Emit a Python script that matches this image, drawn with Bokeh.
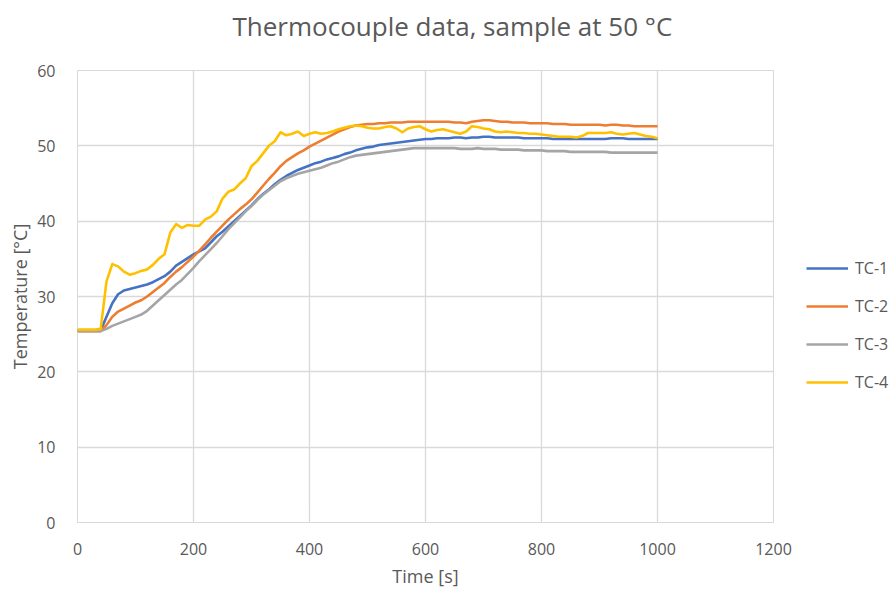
from bokeh.plotting import figure
from bokeh.models import Legend, LegendItem, FixedTicker, Range1d, Title
from bokeh.embed import file_html
from bokeh.resources import INLINE

time_s = list(range(0, 1001, 10))

tc1 = [25.5, 25.5, 25.5, 25.5, 25.5, 27.3, 29.1, 30.3, 30.8, 31.0,
       31.2, 31.4, 31.6, 31.9, 32.3, 32.7, 33.3, 34.1, 34.6, 35.1,
       35.6, 36.0, 36.4, 37.2, 38.0, 38.6, 39.3, 40.0, 40.7, 41.4,
       42.1, 42.9, 43.6, 44.2, 44.9, 45.5, 46.0, 46.4, 46.8, 47.1,
       47.4, 47.7, 47.9, 48.2, 48.4, 48.6, 48.9, 49.1, 49.4, 49.6,
       49.8, 49.9, 50.1, 50.2, 50.3, 50.4, 50.5, 50.6, 50.7, 50.8,
       50.9, 50.9, 51.0, 51.0, 51.0, 51.1, 51.1, 51.0, 51.1, 51.1,
       51.2, 51.2, 51.1, 51.1, 51.1, 51.1, 51.1, 51.0, 51.0, 51.0,
       51.0, 51.0, 50.9, 50.9, 50.9, 50.9, 50.9, 50.9, 50.9, 50.9,
       50.9, 50.9, 51.0, 51.0, 51.0, 50.9, 50.9, 50.9, 50.9, 50.9,
       50.9]

tc2 = [25.4, 25.4, 25.4, 25.4, 25.4, 26.2, 27.3, 28.0, 28.4, 28.8,
       29.2, 29.5, 30.0, 30.6, 31.2, 31.8, 32.6, 33.3, 33.9, 34.6,
       35.3, 36.1, 36.9, 37.8, 38.6, 39.4, 40.2, 40.9, 41.6, 42.2,
       42.9, 43.8, 44.7, 45.6, 46.4, 47.3, 48.0, 48.5, 49.0, 49.4,
       49.9, 50.3, 50.7, 51.1, 51.5, 51.9, 52.2, 52.5, 52.7, 52.8,
       52.9, 52.9, 53.0, 53.0, 53.1, 53.1, 53.1, 53.2, 53.2, 53.2,
       53.2, 53.2, 53.2, 53.2, 53.2, 53.1, 53.1, 53.0, 53.2, 53.3,
       53.4, 53.4, 53.3, 53.2, 53.2, 53.1, 53.1, 53.1, 53.0, 53.0,
       53.0, 53.0, 52.9, 52.9, 52.9, 52.8, 52.8, 52.8, 52.8, 52.8,
       52.8, 52.7, 52.8, 52.8, 52.7, 52.7, 52.6, 52.6, 52.6, 52.6,
       52.6]

tc3 = [25.4, 25.4, 25.4, 25.4, 25.4, 25.7, 26.1, 26.4, 26.7, 27.0,
       27.3, 27.6, 28.1, 28.8, 29.5, 30.2, 30.9, 31.6, 32.2, 33.0,
       33.8, 34.7, 35.5, 36.3, 37.1, 38.0, 38.9, 39.7, 40.5, 41.3,
       42.0, 42.8, 43.5, 44.1, 44.7, 45.3, 45.7, 46.0, 46.3, 46.5,
       46.7, 46.9, 47.1, 47.4, 47.7, 47.9, 48.2, 48.5, 48.7, 48.8,
       48.9, 49.0, 49.1, 49.2, 49.3, 49.4, 49.5, 49.6, 49.7, 49.7,
       49.7, 49.7, 49.7, 49.7, 49.7, 49.7, 49.6, 49.6, 49.6, 49.7,
       49.6, 49.6, 49.6, 49.5, 49.5, 49.5, 49.5, 49.4, 49.4, 49.4,
       49.4, 49.3, 49.3, 49.3, 49.3, 49.2, 49.2, 49.2, 49.2, 49.2,
       49.2, 49.2, 49.1, 49.1, 49.1, 49.1, 49.1, 49.1, 49.1, 49.1,
       49.1]

tc4 = [25.6, 25.6, 25.6, 25.6, 25.7, 32.0, 34.3, 34.0, 33.3, 32.9,
       33.1, 33.4, 33.6, 34.2, 35.0, 35.6, 38.5, 39.6, 39.1, 39.5,
       39.4, 39.4, 40.2, 40.6, 41.3, 43.0, 43.9, 44.2, 45.0, 45.7,
       47.3, 48.0, 49.0, 50.0, 50.6, 51.8, 51.4, 51.6, 51.9, 51.3,
       51.6, 51.8, 51.6, 51.7, 51.9, 52.2, 52.4, 52.6, 52.7, 52.6,
       52.4, 52.3, 52.3, 52.5, 52.6, 52.3, 51.8, 52.3, 52.5, 52.6,
       52.2, 51.9, 52.1, 52.2, 52.0, 51.8, 51.6, 51.9, 52.6, 52.5,
       52.3, 52.2, 51.9, 51.8, 51.9, 51.8, 51.7, 51.7, 51.6, 51.6,
       51.5, 51.4, 51.3, 51.2, 51.2, 51.2, 51.1, 51.3, 51.7, 51.7,
       51.7, 51.7, 51.8, 51.6, 51.5, 51.6, 51.7, 51.5, 51.3, 51.2,
       51.0]

series_names = ["TC-1", "TC-2", "TC-3", "TC-4"]
series_colors = ["#4472C4", "#ED7D31", "#A5A5A5", "#FFC000"]
x_ticks = [0, 200, 400, 600, 800, 1000, 1200]
y_ticks = [0, 10, 20, 30, 40, 50, 60]

FONT = "Open Sans"
TXT = "#595959"
GRID = "#D9D9D9"

p = figure(width=895, height=591, output_backend="svg", toolbar_location=None,
           x_range=Range1d(0, 1200), y_range=Range1d(0, 60),
           frame_width=696, frame_height=452,
           min_border_left=77, min_border_right=0, min_border_top=70, min_border_bottom=69)

p.title.text = "Thermocouple data, sample at 50 °C"
p.title.text_font = FONT
p.title.text_font_size = "26px"
p.title.text_font_style = "normal"
p.title.text_color = TXT
p.title.align = "left"
p.title.offset = 155
p.title.standoff = 0

# empty spacer between the title and the plot frame
spacer = Title(text=" ", text_font_size="10px", standoff=14)
p.add_layout(spacer, "above")

p.outline_line_color = GRID
p.background_fill_color = "white"
p.border_fill_color = "white"

for ax in (p.xaxis[0], p.yaxis[0]):
    ax.axis_line_color = None
    ax.major_tick_line_color = None
    ax.minor_tick_line_color = None
    ax.major_label_text_font = FONT
    ax.major_label_text_font_size = "16px"
    ax.major_label_text_color = TXT
    ax.axis_label_text_font = FONT
    ax.axis_label_text_font_size = "18px"
    ax.axis_label_text_font_style = "normal"
    ax.axis_label_text_color = TXT

p.xaxis[0].ticker = FixedTicker(ticks=x_ticks)
p.yaxis[0].ticker = FixedTicker(ticks=y_ticks)
p.xaxis[0].axis_label = "Time [s]"
p.yaxis[0].axis_label = "Temperature [°C]"
p.xaxis[0].major_label_standoff = 14
p.yaxis[0].major_label_standoff = 16
p.xaxis[0].axis_label_standoff = 6
p.yaxis[0].axis_label_standoff = 2

p.xgrid.grid_line_color = GRID
p.ygrid.grid_line_color = GRID
p.xgrid.ticker = FixedTicker(ticks=x_ticks)
p.ygrid.ticker = FixedTicker(ticks=y_ticks)
p.xgrid.grid_line_width = 1.3
p.ygrid.grid_line_width = 1.3

items = []
for name, col, ys in zip(series_names, series_colors, [tc1, tc2, tc3, tc4]):
    r = p.line(time_s, ys, line_color=col, line_width=2.6, line_join="round")
    items.append(LegendItem(label=name, renderers=[r]))

legend = Legend(items=items, location=(33, 129), border_line_color=None,
                background_fill_alpha=0, label_text_font=FONT, label_text_font_size="16px",
                label_text_color=TXT, glyph_width=42, glyph_height=20, label_height=20,
                spacing=16, padding=5, margin=0, label_standoff=7)
p.add_layout(legend, "right")

open("out.html", "w").write(file_html(p, INLINE))
